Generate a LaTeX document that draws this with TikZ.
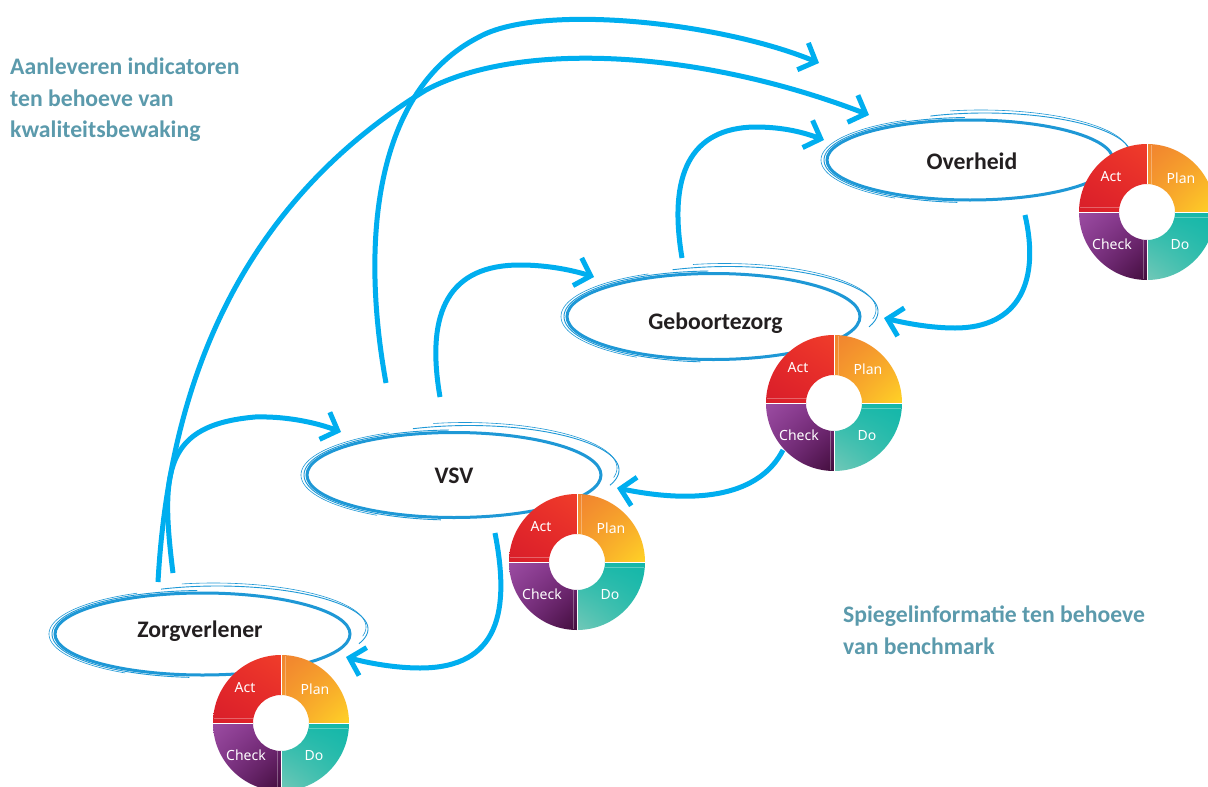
\documentclass[tikz,border=0pt]{standalone}
\usepackage{fontspec}
\setmainfont{Carlito}
\newfontfamily\pdcafont{Noto Sans}
\usetikzlibrary{arrows.meta,shapes.geometric,shadings}
\definecolor{arrowblue}{RGB}{0,174,239}
\definecolor{ellblue}{RGB}{30,152,214}
\definecolor{labelteal}{RGB}{91,154,172}
\definecolor{labeldark}{RGB}{35,31,32}
\definecolor{actA}{HTML}{E82C2A}\definecolor{actB}{HTML}{EF3D2A}\definecolor{actC}{HTML}{D81E2A}\definecolor{actD}{HTML}{E3262A}
\definecolor{planA}{HTML}{F1832F}\definecolor{planB}{HTML}{F59C2D}\definecolor{planC}{HTML}{F6A02D}\definecolor{planD}{HTML}{FFD326}
\definecolor{doA}{HTML}{1EB9A8}\definecolor{doB}{HTML}{12B7AA}\definecolor{doC}{HTML}{72C8B8}\definecolor{doD}{HTML}{30BDAB}
\definecolor{chkA}{HTML}{9B4CA1}\definecolor{chkB}{HTML}{7E2F85}\definecolor{chkC}{HTML}{7A3083}\definecolor{chkD}{HTML}{420D3C}
\tikzset{
  flow/.style={draw=arrowblue, line width=5pt, -{Straight Barb[length=14pt,width=29pt]}},
  ellthin/.style={draw=ellblue, line width=0.9pt},
  ellnode/.style={ellipse, draw=ellblue, line width=3pt, inner sep=0pt, outer sep=0pt},
  boxlabel/.style={font=\bfseries\fontsize{23.7}{28}\selectfont, text=labeldark, anchor=base, inner sep=0pt},
  sidetext/.style={font=\bfseries\fontsize{23.7}{31.5}\selectfont, text=labelteal, align=left, anchor=north west, inner sep=0pt},
  pdcalabel/.style={font=\pdcafont\fontsize{14}{16}\selectfont, text=white, inner sep=0pt},
  pdca/.pic={
    \shade[upper left=actA, upper right=actB, lower left=actC, lower right=actD]
      (180:68) arc[start angle=180, end angle=270, radius=68] -- (270:28) arc[start angle=270, end angle=180, radius=28] -- cycle;
    \shade[upper left=planA, upper right=planB, lower left=planC, lower right=planD]
      (270:68) arc[start angle=270, end angle=360, radius=68] -- (0:28) arc[start angle=360, end angle=270, radius=28] -- cycle;
    \shade[upper left=doA, upper right=doB, lower left=doC, lower right=doD]
      (0:68) arc[start angle=0, end angle=90, radius=68] -- (90:28) arc[start angle=90, end angle=0, radius=28] -- cycle;
    \shade[upper left=chkA, upper right=chkB, lower left=chkC, lower right=chkD]
      (90:68) arc[start angle=90, end angle=180, radius=68] -- (180:28) arc[start angle=180, end angle=90, radius=28] -- cycle;
    \draw[white, line width=1pt] (0,-28) -- (0,-69) (0,28) -- (0,69) (-28,0) -- (-69,0) (28,0) -- (69,0);
    \draw[white, opacity=0.3, line width=0.6pt] (4,-28) -- (4,-67) (-67,-5) -- (-28,-5) (28,5) -- (67,5) (-4,28) -- (-4,67);
    \node[pdcalabel] (-act) at (-36,-35) {Act};
    \node[pdcalabel] (-plan) at (34,-34) {Plan};
    \node[pdcalabel] (-check) at (-35,32) {Check};
    \node[pdcalabel] (-do) at (33,33) {Do};
  }
}
\newcommand\sketchlines[4]{%
  \draw[ellthin] plot[domain=95:268, samples=70, smooth, variable=\q] ({#1+(#3+3)*cos(\q)}, {#2+(#4+2.5)*sin(\q)});
  \draw[ellthin, line width=0.6pt] plot[domain=120:245, samples=60, smooth, variable=\q] ({#1-1+(#3+5)*cos(\q)}, {#2+(#4+4)*sin(\q)});
  \draw[ellthin] plot[domain=248:380, samples=70, smooth, variable=\q] ({#1+15+(#3+3)*cos(\q)}, {#2-5+(#4+2)*sin(\q)});
  \draw[ellthin, line width=0.6pt] plot[domain=258:372, samples=60, smooth, variable=\q] ({#1+11+(#3+5)*cos(\q)}, {#2-7+(#4+3)*sin(\q)});
}
\begin{document}
\begin{tikzpicture}[x=1pt,y=-1pt]
\fill[white] (0,0) rectangle (1208,787);
\useasboundingbox (0,0) rectangle (1208,787);

% connectors
\coordinate (a0) at (173,573); \coordinate (a1) at (341,432);
\coordinate (b0) at (158,582); \coordinate (b1) at (869,115);
\coordinate (c0) at (386,383); \coordinate (c1) at (819,63);
\coordinate (d0) at (440,397); \coordinate (d1) at (594,277);
\coordinate (e0) at (682,258); \coordinate (e1) at (824,140);
\coordinate (f0) at (1025,215); \coordinate (f1) at (884,318);
\coordinate (g0) at (783,450); \coordinate (g1) at (617,488);
\coordinate (h0) at (495,533); \coordinate (h1) at (346,657);

\draw[flow] (a0) .. controls (160,470) and (165,425) .. (255,417) .. controls (290,416) and (320,424) .. (a1);
\draw[flow] (b0) .. controls (168,400) and (230,210) .. (426,90) .. controls (520,40) and (700,50) .. (b1);
\draw[flow] (c0) .. controls (360,240) and (375,90) .. (479,37) .. controls (540,3) and (720,22) .. (c1);
\draw[flow] (d0) .. controls (425,310) and (450,265) .. (520,265) .. controls (550,265) and (575,271) .. (d1);
\draw[flow] (e0) .. controls (668,175) and (690,128) .. (755,127) .. controls (785,127) and (805,133) .. (e1);
\draw[flow] (f0) .. controls (1040,280) and (1020,328) .. (955,328) .. controls (930,328) and (905,323) .. (f1);
\draw[flow] (g0) .. controls (760,495) and (700,505) .. (g1);
\draw[flow] (h0) .. controls (510,610) and (500,668) .. (420,668) .. controls (395,668) and (368,663) .. (h1);

% ellipses
\node[ellnode, minimum width=286, minimum height=80] (ovh) at (970,160) {};
\sketchlines{970}{160}{143}{40}
\node[ellnode, minimum width=293, minimum height=86] (gbz) at (713.5,316.5) {};
\sketchlines{713.5}{316.5}{146.5}{43}
\node[ellnode, minimum width=294, minimum height=85] (vsv) at (454,475) {};
\sketchlines{454}{475}{147}{42.5}
\node[ellnode, minimum width=295, minimum height=82] (zvl) at (202.5,634) {};
\sketchlines{202.5}{634}{147.5}{41}

% PDCA rings
\pic (p1) at (1147,212) {pdca};
\pic (p2) at (834,403) {pdca};
\pic (p3) at (577,562) {pdca};
\pic (p4) at (281,723) {pdca};

% labels
\node[boxlabel] (ovht) at (972,169) {Overheid};
\node[boxlabel] (gbzt) at (715.5,329) {Geboortezorg};
\node[boxlabel] (vsvt) at (454,483) {VSV};
\node[boxlabel] (zvlt) at (200,637.5) {Zorgverlener};

\node[sidetext] (leftnote) at (10,58) {Aanleveren indicatoren\\ten behoeve van\\kwaliteitsbewaking};
\node[sidetext] (rightnote) at (843,606) {Spiegelinformatie ten behoeve\\van benchmark};
\end{tikzpicture}
\end{document}
